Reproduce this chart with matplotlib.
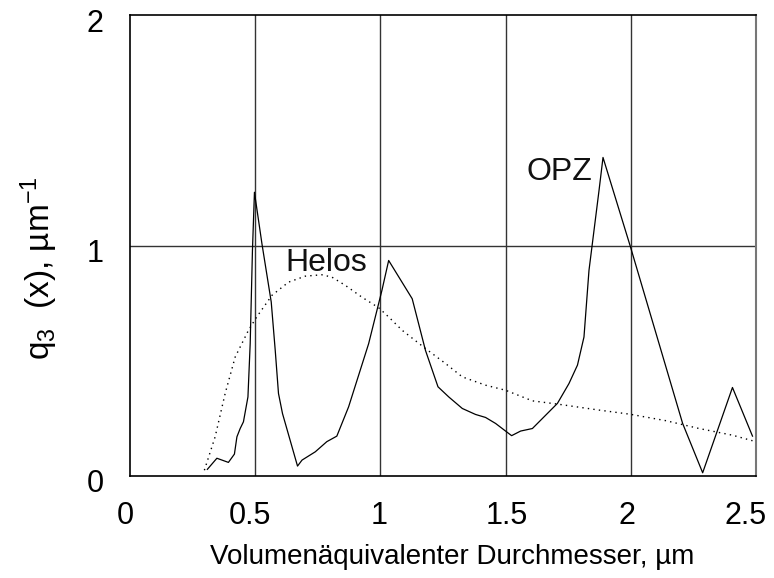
import matplotlib
matplotlib.use("Agg")
import matplotlib.pyplot as plt
from matplotlib.transforms import ScaledTranslation

plt.rcParams['font.family'] = ['Liberation Sans', 'DejaVu Sans']
plt.rcParams['mathtext.fontset'] = 'custom'
plt.rcParams['mathtext.rm'] = 'Liberation Sans'
plt.rcParams['mathtext.it'] = 'Liberation Sans'
plt.rcParams['mathtext.default'] = 'regular'

# OPZ (solid line)
opz_x = [0.309, 0.347, 0.393, 0.417, 0.427, 0.44, 0.453, 0.471, 0.48, 0.489, 0.497,
         0.527, 0.564, 0.58, 0.593, 0.609, 0.669, 0.687, 0.74, 0.786, 0.826, 0.873,
         0.953, 1.006, 1.033, 1.127, 1.18, 1.23, 1.273, 1.327, 1.38, 1.42, 1.46,
         1.524, 1.56, 1.607, 1.707, 1.753, 1.787, 1.813, 1.833, 1.873, 1.889, 1.997,
         2.207, 2.287, 2.406, 2.486]
opz_y = [0.029, 0.077, 0.059, 0.095, 0.170, 0.206, 0.235, 0.343, 0.574, 0.978, 1.231,
         1.007, 0.755, 0.545, 0.358, 0.271, 0.043, 0.069, 0.105, 0.149, 0.173, 0.30,
         0.574, 0.805, 0.935, 0.769, 0.545, 0.387, 0.343, 0.293, 0.267, 0.254, 0.228,
         0.175, 0.195, 0.206, 0.315, 0.401, 0.481, 0.603, 0.892, 1.238, 1.382, 1.0,
         0.228, 0.014, 0.384, 0.173]

# Helos (dotted line)
helos_x = [0.297, 0.34, 0.38, 0.42, 0.473, 0.506, 0.567, 0.633, 0.70, 0.766, 0.806,
           0.86, 0.926, 0.993, 1.033, 1.087, 1.18, 1.26, 1.327, 1.42, 1.5, 1.607,
           1.707, 1.873, 1.997, 2.14, 2.273, 2.406, 2.486]
helos_y = [0.025, 0.170, 0.358, 0.516, 0.632, 0.69, 0.784, 0.841, 0.867, 0.873, 0.863,
           0.827, 0.776, 0.73, 0.69, 0.632, 0.553, 0.488, 0.43, 0.394, 0.372, 0.326,
           0.312, 0.286, 0.268, 0.24, 0.206, 0.177, 0.153]

x_ticks = [0, 0.5, 1, 1.5, 2, 2.5]
x_tick_labels = ['0', '0.5', '1', '1.5', '2', '2.5']
y_ticks = [0, 1, 2]
y_tick_labels = ['0', '1', '2']

fig = plt.figure(figsize=(7.74, 5.78), dpi=100)
ax = fig.add_axes([130/774, 1-476/578, 626/774, 461/578])

ax.set_xlim(0, 2.5)
ax.set_ylim(0, 2)

for xv in [0.5, 1, 1.5, 2]:
    ax.axvline(xv, color='#333333', lw=1.0, zorder=1)
ax.axhline(1, color='#333333', lw=1.0, zorder=1)

ax.plot(opz_x, opz_y, color='black', lw=0.9, zorder=3)
ax.plot(helos_x, helos_y, color='black', lw=1.0, linestyle=(0, (1, 3)), zorder=3)

ax.text(0.785, 0.926, 'Helos', fontsize=23, ha='center', va='center', color='#111111')
ax.text(1.713, 1.32, 'OPZ', fontsize=23, ha='center', va='center', color='#111111')

ax.set_xticks(x_ticks)
ax.set_xticklabels(x_tick_labels, fontsize=22)
ax.set_yticks(y_ticks)
ax.set_yticklabels(y_tick_labels, fontsize=22)
ax.tick_params(length=0)
ax.tick_params(axis='x', pad=18)
ax.tick_params(axis='y', pad=19)

dx = [-5, -5, -1, 1, -4, -10]
for lab, d in zip(ax.get_xticklabels(), dx):
    lab.set_transform(lab.get_transform() + ScaledTranslation(d/100, 0, fig.dpi_scale_trans))
for lab in ax.get_yticklabels():
    lab.set_transform(lab.get_transform() + ScaledTranslation(0, -5/100, fig.dpi_scale_trans))

ax.set_xlabel('Volumenäquivalenter Durchmesser, µm', fontsize=20, labelpad=9)
ax.xaxis.label.set_x(0.515)
ax.set_ylabel(r'q$_3$  (x), µm$^{-1}$', fontsize=24, labelpad=19)
ax.yaxis.label.set_y(0.45)

for s in ax.spines.values():
    s.set_color('black')
    s.set_linewidth(1.2)
ax.spines['right'].set_color('#777777')
ax.spines['right'].set_linewidth(1.5)

fig.savefig('out.png', dpi=100)
